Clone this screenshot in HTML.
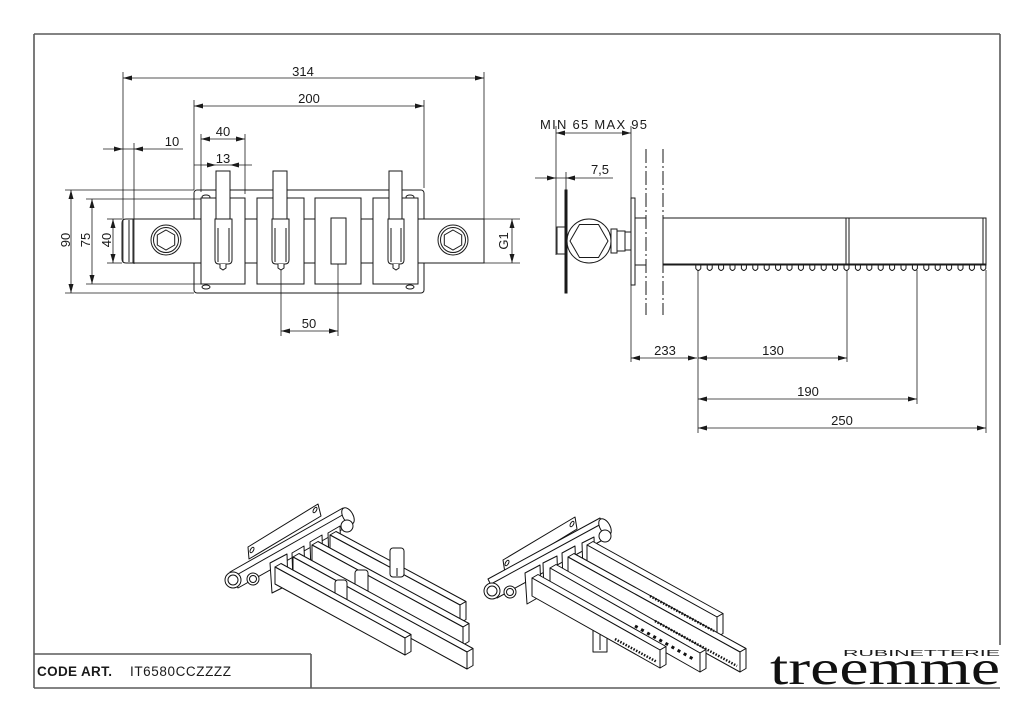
<!DOCTYPE html>
<html><head><meta charset="utf-8"><style>
html,body{margin:0;padding:0;background:#fff;}
svg{display:block;}
text{font-family:"Liberation Sans",Arial,sans-serif;fill:#1a1a1a;}
</style></head><body>
<svg width="1024" height="723" viewBox="0 0 1024 723" xmlns="http://www.w3.org/2000/svg">
<!-- frame -->
<g stroke="#5a5a5a" stroke-width="1.6" fill="none">
<line x1="34" y1="34" x2="1000" y2="34"/>
<line x1="34" y1="34" x2="34" y2="688"/>
<line x1="1000" y1="34" x2="1000" y2="645"/>
<line x1="34" y1="688" x2="1000" y2="688"/>
<line x1="34" y1="654" x2="311" y2="654"/>
<line x1="311" y1="654" x2="311" y2="688"/>
</g>
<text x="37" y="676" font-size="13.5" font-weight="bold" textLength="75">CODE ART.</text>
<text x="130" y="676" font-size="13.5" textLength="101">IT6580CCZZZZ</text>
<text x="843" y="656" font-size="8.5" textLength="157" lengthAdjust="spacingAndGlyphs" style="font-family:'Liberation Sans',sans-serif;">RUBINETTERIE</text>
<text x="770" y="684" font-size="49" textLength="230" lengthAdjust="spacingAndGlyphs" style="font-family:'Liberation Serif',serif;fill:#111;">treemme</text>

<!-- ===== LEFT FRONT VIEW ===== -->
<g stroke="#1a1a1a" stroke-width="1" fill="#fff">
<rect x="194" y="190" width="230" height="103" rx="3"/>
<rect x="133" y="219" width="351" height="44"/>
<path d="M133 219 H126 Q122 219 122 223 V259 Q122 263 126 263 H133 Z"/>
<line x1="129" y1="220" x2="129" y2="262"/>
<circle cx="166" cy="240" r="15"/>
<circle cx="166" cy="240" r="12.5"/>
<polygon points="166,230 174.7,235 174.7,245 166,250 157.3,245 157.3,235"/>
<circle cx="453" cy="240" r="15"/>
<circle cx="453" cy="240" r="12.5"/>
<polygon points="453,230 461.7,235 461.7,245 453,250 444.3,245 444.3,235"/>
<ellipse cx="206" cy="197" rx="4" ry="2"/>
<ellipse cx="410" cy="197" rx="4" ry="2"/>
<ellipse cx="206" cy="287" rx="4" ry="2"/>
<ellipse cx="410" cy="287" rx="4" ry="2"/>
<rect x="201" y="198" width="44" height="86"/>
<rect x="257" y="198" width="47" height="86"/>
<rect x="315" y="198" width="46" height="86"/>
<rect x="373" y="198" width="45" height="86"/>
<rect x="331" y="218" width="15" height="46"/>
<!-- handles -->
<rect x="216" y="171" width="14" height="48"/>
<path d="M215 219 H232 V260 Q232 264 228 264 H219 Q215 264 215 260 Z"/>
<line x1="218" y1="228" x2="218" y2="262"/><line x1="229" y1="228" x2="229" y2="262"/>
<path d="M220 264 V268 L223 270 L226 268 V264"/>
<rect x="273" y="171" width="14" height="48"/>
<path d="M272 219 H289 V260 Q289 264 285 264 H276 Q272 264 272 260 Z"/>
<line x1="275" y1="228" x2="275" y2="262"/><line x1="286" y1="228" x2="286" y2="262"/>
<path d="M278 264 V268 L281 270 L284 268 V264"/>
<rect x="389" y="171" width="13" height="48"/>
<path d="M388 219 H404 V260 Q404 264 400 264 H392 Q388 264 388 260 Z"/>
<line x1="391" y1="228" x2="391" y2="262"/><line x1="401" y1="228" x2="401" y2="262"/>
<path d="M393 264 V268 L396 270 L399 268 V264"/>
</g>

<!-- left dimensions -->
<g stroke="#1a1a1a" stroke-width="0.8" fill="none">
<line x1="123" y1="78" x2="484" y2="78"/>
<line x1="123" y1="72" x2="123" y2="262"/>
<line x1="484" y1="72" x2="484" y2="220"/>
<line x1="194" y1="106" x2="424" y2="106"/>
<line x1="194" y1="100" x2="194" y2="190"/>
<line x1="424" y1="100" x2="424" y2="188"/>
<line x1="201" y1="139" x2="245" y2="139"/>
<line x1="201" y1="134" x2="201" y2="192"/>
<line x1="245" y1="134" x2="245" y2="194"/>
<line x1="103" y1="149" x2="183" y2="149"/>
<line x1="134" y1="143" x2="134" y2="264"/>
<line x1="194" y1="165" x2="252" y2="165"/>
<line x1="71" y1="190" x2="71" y2="293"/>
<line x1="65" y1="190" x2="194" y2="190"/>
<line x1="65" y1="293" x2="194" y2="293"/>
<line x1="92" y1="199" x2="92" y2="284"/>
<line x1="86" y1="199" x2="201" y2="199"/>
<line x1="86" y1="284" x2="201" y2="284"/>
<line x1="113" y1="219" x2="113" y2="263"/>
<line x1="107" y1="219" x2="122" y2="219"/>
<line x1="107" y1="263" x2="122" y2="263"/>
<line x1="512" y1="219" x2="512" y2="263"/>
<line x1="484" y1="219" x2="520" y2="219"/>
<line x1="484" y1="263" x2="520" y2="263"/>
<line x1="281" y1="331" x2="338" y2="331"/>
<line x1="281" y1="270" x2="281" y2="336"/>
<line x1="338" y1="264" x2="338" y2="336"/>
</g>
<g fill="#1a1a1a">
<polygon points="123,78 132,75.5 132,80.5"/><polygon points="484,78 475,75.5 475,80.5"/>
<polygon points="194,106 203,103.5 203,108.5"/><polygon points="424,106 415,103.5 415,108.5"/>
<polygon points="201,139 210,136.5 210,141.5"/><polygon points="245,139 236,136.5 236,141.5"/>
<polygon points="123,149 114,146.5 114,151.5"/><polygon points="134,149 143,146.5 143,151.5"/>
<polygon points="216,165 207,162.5 207,167.5"/><polygon points="230,165 239,162.5 239,167.5"/>
<polygon points="71,190 68.5,199 73.5,199"/><polygon points="71,293 68.5,284 73.5,284"/>
<polygon points="92,199 89.5,208 94.5,208"/><polygon points="92,284 89.5,275 94.5,275"/>
<polygon points="113,219 110.5,228 115.5,228"/><polygon points="113,263 110.5,254 115.5,254"/>
<polygon points="512,219 509.5,228 514.5,228"/><polygon points="512,263 509.5,254 514.5,254"/>
<polygon points="281,331 290,328.5 290,333.5"/><polygon points="338,331 329,328.5 329,333.5"/>
</g>
<g font-size="13" text-anchor="middle">
<text x="303" y="76">314</text>
<text x="309" y="103">200</text>
<text x="223" y="136">40</text>
<text x="172" y="146">10</text>
<text x="223" y="163">13</text>
<text x="309" y="328">50</text>
<text transform="translate(70,240) rotate(-90)">90</text>
<text transform="translate(90,240) rotate(-90)">75</text>
<text transform="translate(111,240) rotate(-90)">40</text>
<text transform="translate(508,241) rotate(-90)">G1</text>
</g>

<!-- ===== RIGHT SIDE VIEW ===== -->
<g stroke="#1a1a1a" stroke-width="1" fill="#fff">
<rect x="565" y="190" width="2" height="103" fill="#1a1a1a"/>
<rect x="557" y="227" width="8" height="27"/>
<circle cx="589" cy="241" r="22"/>
<polygon points="608,241 598.5,224.5 579.5,224.5 570,241 579.5,257.5 598.5,257.5"/>
<rect x="611" y="229" width="6" height="24"/>
<rect x="617" y="231" width="8" height="20"/>
<rect x="625" y="232" width="6" height="18"/>
<rect x="631" y="198" width="4" height="87"/>
<line x1="635" y1="218" x2="646" y2="218"/>
<line x1="635" y1="265" x2="646" y2="265"/>
<rect x="663" y="218" width="323" height="47"/>
<line x1="663" y1="264" x2="986" y2="264"/>
<line x1="846" y1="218" x2="846" y2="265"/>
<line x1="849" y1="218" x2="849" y2="265"/>
<line x1="983" y1="218" x2="983" y2="265"/>
</g>
<g stroke="#1a1a1a" stroke-width="1" fill="none">
<line x1="646" y1="149" x2="646" y2="315" stroke-dasharray="14 3 2 3"/>
<line x1="663" y1="149" x2="663" y2="315" stroke-dasharray="14 3 2 3"/>
<path d="M695.8 265.5v3q2.5 4 5 0v-3M707.2 265.5v3q2.5 4 5 0v-3M718.6 265.5v3q2.5 4 5 0v-3M730 265.5v3q2.5 4 5 0v-3M741.4 265.5v3q2.5 4 5 0v-3M752.8 265.5v3q2.5 4 5 0v-3M764.2 265.5v3q2.5 4 5 0v-3M775.6 265.5v3q2.5 4 5 0v-3M787 265.5v3q2.5 4 5 0v-3M798.4 265.5v3q2.5 4 5 0v-3M809.8 265.5v3q2.5 4 5 0v-3M821.2 265.5v3q2.5 4 5 0v-3M832.6 265.5v3q2.5 4 5 0v-3M844 265.5v3q2.5 4 5 0v-3M855.4 265.5v3q2.5 4 5 0v-3M866.8 265.5v3q2.5 4 5 0v-3M878.2 265.5v3q2.5 4 5 0v-3M889.6 265.5v3q2.5 4 5 0v-3M901 265.5v3q2.5 4 5 0v-3M912.4 265.5v3q2.5 4 5 0v-3M923.8 265.5v3q2.5 4 5 0v-3M935.2 265.5v3q2.5 4 5 0v-3M946.6 265.5v3q2.5 4 5 0v-3M958 265.5v3q2.5 4 5 0v-3M969.4 265.5v3q2.5 4 5 0v-3M980.8 265.5v3q2.5 4 5 0v-3"/>
</g>
<g stroke="#1a1a1a" stroke-width="0.8" fill="none">
<line x1="556" y1="133" x2="631" y2="133"/>
<line x1="556" y1="126" x2="556" y2="255"/>
<line x1="631" y1="126" x2="631" y2="362"/>
<line x1="535" y1="178" x2="613" y2="178"/>
<line x1="566" y1="172" x2="566" y2="190"/>
<line x1="631" y1="358" x2="697" y2="358"/>
<line x1="698" y1="358" x2="847" y2="358"/>
<line x1="698" y1="399" x2="917" y2="399"/>
<line x1="698" y1="428" x2="986" y2="428"/>
<line x1="698" y1="270" x2="698" y2="433"/>
<line x1="847" y1="270" x2="847" y2="362"/>
<line x1="917" y1="270" x2="917" y2="404"/>
<line x1="986" y1="270" x2="986" y2="433"/>
</g>
<g fill="#1a1a1a">
<polygon points="556,133 565,130.5 565,135.5"/><polygon points="631,133 622,130.5 622,135.5"/>
<polygon points="556,178 547,175.5 547,180.5"/><polygon points="566,178 575,175.5 575,180.5"/>
<polygon points="631,358 640,355.5 640,360.5"/><polygon points="697,358 688,355.5 688,360.5"/>
<polygon points="698,358 707,355.5 707,360.5"/><polygon points="847,358 838,355.5 838,360.5"/>
<polygon points="698,399 707,396.5 707,401.5"/><polygon points="917,399 908,396.5 908,401.5"/>
<polygon points="698,428 707,425.5 707,430.5"/><polygon points="986,428 977,425.5 977,430.5"/>
</g>
<g font-size="13" text-anchor="middle">
<text x="540" y="129" text-anchor="start" textLength="107">MIN  65  MAX 95</text>
<text x="600" y="174">7,5</text>
<text x="665" y="355">233</text>
<text x="773" y="355">130</text>
<text x="808" y="396">190</text>
<text x="842" y="425">250</text>
</g>

<!-- ===== ISOMETRIC 1 ===== -->
<g stroke="#111" stroke-width="1" fill="#fff" stroke-linejoin="round">
<polygon points="248,547 318,504 321,516 249,559"/>
<ellipse cx="252" cy="550" rx="1.5" ry="3" transform="rotate(30 252 550)"/>
<ellipse cx="315" cy="510" rx="1.5" ry="3" transform="rotate(30 315 510)"/>
<polygon points="230,572 343,508 352,524 238,588"/>
<line x1="233" y1="577" x2="346" y2="513"/>
<ellipse cx="348" cy="516" rx="5" ry="9" transform="rotate(-30 348 516)"/>
<circle cx="347" cy="526" r="6"/>
<circle cx="233" cy="580" r="8"/>
<circle cx="233" cy="580" r="5"/>
<circle cx="253" cy="579" r="6"/>
<circle cx="253" cy="579" r="3.5"/>
<polygon points="328,533 340,526 341,555 329,562"/>
<polygon points="330,535 460,605 466,601.5 336,531.5"/>
<polygon points="330,535 460,605 460,623 330,553"/>
<polygon points="460,605 466,601.5 466,619.5 460,623"/>
<rect x="390" y="548" width="14" height="29" rx="3"/>
<line x1="397" y1="568" x2="397" y2="576"/>
<polygon points="310,542 322,535 323,565 311,572"/>
<polygon points="312,545 463,627 469,623.5 318,541.5"/>
<polygon points="312,545 463,627 463,645 312,563"/>
<polygon points="463,627 469,623.5 469,641.5 463,645"/>
<rect x="355" y="570" width="13" height="30" rx="3"/>
<line x1="361" y1="590" x2="361" y2="599"/>
<polygon points="292,553 304,546 305,576 293,583"/>
<polygon points="293,557 467,652 473,648.5 299,553.5"/>
<polygon points="293,557 467,652 467,669 293,574"/>
<polygon points="467,652 473,648.5 473,665.5 467,669"/>
<rect x="335" y="580" width="12" height="24" rx="3"/>
<line x1="341" y1="597" x2="341" y2="603"/>
<polygon points="270,563 287,554 288,585 272,593"/>
<polygon points="275,567 405,638 411,634.5 281,563.5"/>
<polygon points="275,567 405,638 405,655 275,584"/>
<polygon points="405,638 411,634.5 411,651.5 405,655"/>
</g>

<!-- ===== ISOMETRIC 2 ===== -->
<g stroke="#111" stroke-width="1" fill="#fff" stroke-linejoin="round">
<polygon points="503,560 575,517 577,529 505,573"/>
<ellipse cx="507" cy="563" rx="1.5" ry="3" transform="rotate(30 507 563)"/>
<ellipse cx="572" cy="524" rx="1.5" ry="3" transform="rotate(30 572 524)"/>
<polygon points="488,579 600,518 610,536 497,598"/>
<line x1="491" y1="584" x2="603" y2="523"/>
<ellipse cx="605" cy="527" rx="5" ry="9" transform="rotate(-30 605 527)"/>
<circle cx="605" cy="536" r="6"/>
<circle cx="492" cy="591" r="8"/>
<circle cx="492" cy="591" r="5"/>
<circle cx="510" cy="592" r="6"/>
<circle cx="510" cy="592" r="3.5"/>
<polygon points="593,628 607,628 607,652 593,652"/>
<line x1="600" y1="632" x2="600" y2="650"/>
<polygon points="582,543 594,537 595,565 583,571"/>
<polygon points="587,545 717,617 723,613.5 593,541.5"/>
<polygon points="587,545 717,617 717,637 587,565"/>
<polygon points="717,617 723,613.5 723,633.5 717,637"/>
<polygon points="562,553 575,546 576,575 563,582"/>
<polygon points="568,557 740,652 746,648.5 574,553.5"/>
<polygon points="568,557 740,652 740,672 568,577"/>
<polygon points="740,652 746,648.5 746,668.5 740,672"/>
<polygon points="543,563 557,556 558,586 544,593"/>
<polygon points="550,568 700,653 706,649.5 556,564.5"/>
<polygon points="550,568 700,653 700,672 550,587"/>
<polygon points="700,653 706,649.5 706,668.5 700,672"/>
<polygon points="525,573 540,565 541,596 527,604"/>
<polygon points="532,578 660,650 666,646.5 538,574.5"/>
<polygon points="532,578 660,650 660,668 532,596"/>
<polygon points="660,650 666,646.5 666,664.5 660,668"/>
</g>
<g stroke="#111" fill="none">
<line x1="650" y1="596" x2="714" y2="631" stroke-width="2.5" stroke-dasharray="1.5 1.5"/>
<line x1="655" y1="621" x2="737" y2="666" stroke-width="2.5" stroke-dasharray="1.5 1.5"/>
<line x1="635" y1="626" x2="695" y2="660" stroke-width="3" stroke-dasharray="3 4"/>
<line x1="615" y1="639" x2="657" y2="662" stroke-width="2.5" stroke-dasharray="1.5 1.5"/>
</g>
</svg>
</body></html>
